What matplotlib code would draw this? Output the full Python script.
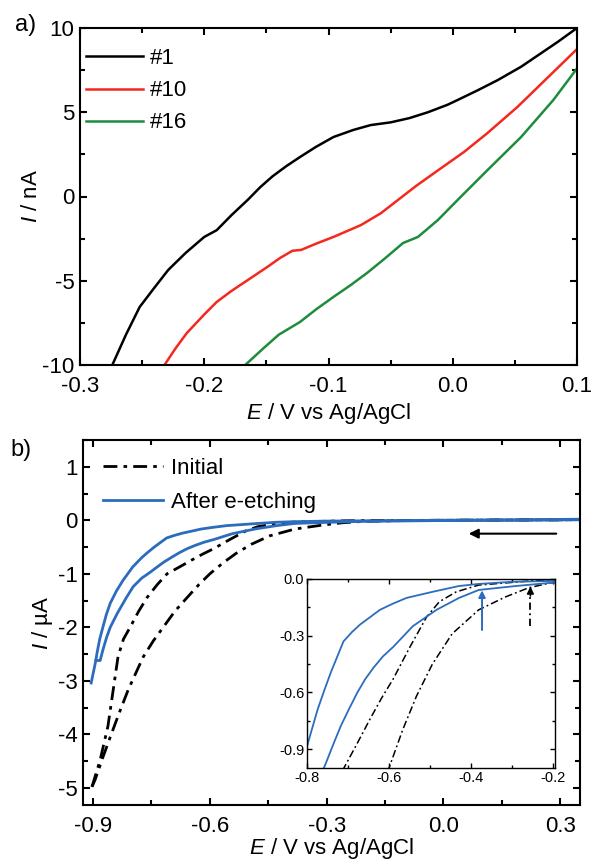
import numpy as np
import matplotlib
matplotlib.use("Agg")
import matplotlib.pyplot as plt
from matplotlib.ticker import MultipleLocator, FormatStrFormatter

plt.rcParams['font.family'] = ['Liberation Sans', 'DejaVu Sans']
plt.rcParams['mathtext.fontset'] = 'custom'
plt.rcParams['mathtext.rm'] = 'Liberation Sans'
plt.rcParams['mathtext.it'] = 'Liberation Sans:italic'
plt.rcParams['axes.unicode_minus'] = False

# ---- panel a: I (nA) vs E (V) ----
e1 = [-0.274, -0.263, -0.252, -0.24, -0.229, -0.215, -0.2, -0.19, -0.178, -0.165, -0.155, -0.145, -0.134, -0.123, -0.11, -0.096, -0.08, -0.066, -0.05, -0.035, -0.02, -0.004, 0.004, 0.02, 0.036, 0.055, 0.071, 0.085, 0.1]
i1 = [-10.0, -8.2, -6.56, -5.4, -4.36, -3.35, -2.4, -2.0, -1.1, -0.2, 0.55, 1.2, 1.8, 2.34, 2.95, 3.53, 3.95, 4.24, 4.4, 4.65, 5.0, 5.45, 5.73, 6.3, 6.9, 7.7, 8.5, 9.2, 10.0]
e10 = [-0.232, -0.223, -0.214, -0.2, -0.19, -0.178, -0.165, -0.149, -0.139, -0.129, -0.122, -0.11, -0.096, -0.074, -0.058, -0.044, -0.03, -0.015, 0.009, 0.028, 0.052, 0.077, 0.1]
i10 = [-10.0, -9.0, -8.1, -7.0, -6.26, -5.6, -4.96, -4.17, -3.65, -3.22, -3.17, -2.8, -2.4, -1.7, -1.0, -0.2, 0.6, 1.39, 2.64, 3.77, 5.31, 7.1, 8.75]
e16 = [-0.167, -0.153, -0.14, -0.123, -0.11, -0.096, -0.082, -0.069, -0.055, -0.04, -0.028, -0.012, 0.004, 0.028, 0.055, 0.081, 0.1]
i16 = [-10.0, -9.05, -8.2, -7.45, -6.7, -5.96, -5.25, -4.54, -3.7, -2.76, -2.4, -1.4, -0.2, 1.57, 3.53, 5.73, 7.6]

# ---- panel b: I (uA) vs E (V) ----
# after e-etching, two branches
eb_up = [-0.905, -0.893, -0.89, -0.883, -0.875, -0.866, -0.856, -0.84, -0.823, -0.798, -0.774, -0.758, -0.742, -0.711, -0.69, -0.67, -0.645, -0.622, -0.59, -0.557, -0.494, -0.429, -0.381, -0.3, -0.2, 0.0, 0.2, 0.35]
ib_up = [-3.04, -2.62, -2.48, -2.22, -2.0, -1.76, -1.55, -1.32, -1.12, -0.87, -0.69, -0.59, -0.495, -0.33, -0.28, -0.24, -0.2, -0.163, -0.13, -0.10, -0.068, -0.037, -0.026, -0.015, -0.01, 0.0, 0.01, 0.02]
eb_lo = [-0.893, -0.882, -0.874, -0.865, -0.856, -0.838, -0.815, -0.797, -0.775, -0.755, -0.735, -0.718, -0.698, -0.677, -0.658, -0.638, -0.615, -0.59, -0.542, -0.484, -0.429, -0.381, -0.29, -0.205, 0.0, 0.2, 0.35]
ib_lo = [-2.62, -2.62, -2.4, -2.18, -2.0, -1.74, -1.45, -1.24, -1.08, -0.98, -0.87, -0.78, -0.69, -0.6, -0.53, -0.47, -0.41, -0.36, -0.25, -0.163, -0.10, -0.058, -0.037, -0.02, -0.005, 0.0, 0.01]
# initial, two branches
ei_1 = [-0.903, -0.882, -0.862, -0.848, -0.836, -0.822, -0.805, -0.783, -0.761, -0.735, -0.71, -0.68, -0.646, -0.618, -0.59, -0.549, -0.508, -0.477, -0.436, -0.381, -0.253, -0.2, 0.0, 0.33]
ii_1 = [-4.98, -4.48, -3.85, -3.15, -2.55, -2.22, -2.0, -1.7, -1.44, -1.2, -1.0, -0.88, -0.74, -0.63, -0.53, -0.36, -0.2, -0.12, -0.068, -0.032, -0.01, -0.005, 0.0, 0.01]
ei_2 = [-0.903, -0.895, -0.876, -0.856, -0.833, -0.81, -0.79, -0.771, -0.745, -0.72, -0.69, -0.658, -0.628, -0.6, -0.566, -0.533, -0.494, -0.446, -0.381, -0.316, -0.26, -0.205, -0.1, 0.0, 0.33]
ii_2 = [-4.98, -4.85, -4.45, -4.05, -3.6, -3.17, -2.85, -2.55, -2.25, -2.0, -1.7, -1.44, -1.2, -1.0, -0.795, -0.62, -0.45, -0.29, -0.163, -0.095, -0.047, -0.02, -0.005, 0.0, 0.01]

# sweep-direction arrow and onset arrows (inset)
sweep_arrow = [(0.29, -0.25), (0.065, -0.25)]
onset_blue = [(-0.373, -0.27), (-0.373, -0.06)]
onset_black = [(-0.255, -0.25), (-0.255, -0.04)]

black = 'black'
red = '#f5281e'
green = '#1e8c3c'
blue = '#2b6cbd'
dashdot_main = (0, (5, 2.2, 1.3, 2.2))
dashdot_in = (0, (5, 2, 1.2, 2))

fig = plt.figure(figsize=(5.95, 8.61), dpi=100)

def style_axes(ax, fs, lw=1.5, maj=5, mnr=3.5, xpad=8, ypad=4):
	for s in ax.spines.values():
		s.set_linewidth(lw)
	ax.tick_params(which='both', direction='in', top=True, right=True, labelsize=fs, width=lw)
	ax.tick_params(axis='x', pad=xpad)
	ax.tick_params(axis='y', pad=ypad)
	ax.tick_params(which='major', length=maj)
	ax.tick_params(which='minor', length=mnr)

# ---- a ----
axa = fig.add_axes([80/595, 1-365/861, 497/595, 337/861])
axa.plot(e1, i1, color=black, lw=1.8, label='#1')
axa.plot(e10, i10, color=red, lw=1.8, label='#10')
axa.plot(e16, i16, color=green, lw=1.8, label='#16')
axa.set_xlim(-0.3, 0.1)
axa.set_ylim(-10, 10)
axa.xaxis.set_major_locator(MultipleLocator(0.1))
axa.xaxis.set_minor_locator(MultipleLocator(0.05))
axa.yaxis.set_major_locator(MultipleLocator(5))
axa.yaxis.set_minor_locator(MultipleLocator(2.5))
axa.xaxis.set_major_formatter(FormatStrFormatter('%.1f'))
style_axes(axa, 16)
axa.set_xlabel('$\\it{E}$ / V vs Ag/AgCl', fontsize=16, labelpad=3)
axa.set_ylabel('$\\it{I}$ / nA', fontsize=16, labelpad=0)
axa.legend(loc='upper left', bbox_to_anchor=(0.012, 0.94), frameon=False, fontsize=16,
	handlelength=2.55, handletextpad=0.32, labelspacing=0.5, borderaxespad=0, borderpad=0)
fig.text(15/595, 1-25/861, 'a)', fontsize=17, va='center', ha='left')

# ---- b ----
axb = fig.add_axes([83/595, 1-805/861, 497/595, 365/861])
axb.plot(ei_1, ii_1, color=black, lw=2, ls=dashdot_main, label='Initial')
axb.plot(ei_2, ii_2, color=black, lw=2, ls=dashdot_main)
axb.plot(eb_up, ib_up, color=blue, lw=2, label='After e-etching')
axb.plot(eb_lo, ib_lo, color=blue, lw=2)
axb.annotate('', xy=sweep_arrow[1], xytext=sweep_arrow[0],
	arrowprops=dict(arrowstyle='-|>', color='black', lw=1.5, mutation_scale=14, shrinkA=0, shrinkB=0))
axb.set_xlim(-0.926, 0.351)
axb.set_ylim(-5.32, 1.5)
axb.xaxis.set_major_locator(MultipleLocator(0.3))
axb.xaxis.set_minor_locator(MultipleLocator(0.15))
axb.yaxis.set_major_locator(MultipleLocator(1))
axb.yaxis.set_minor_locator(MultipleLocator(0.5))
axb.xaxis.set_major_formatter(FormatStrFormatter('%.1f'))
style_axes(axb, 16)
axb.set_xlabel('$\\it{E}$ / V vs Ag/AgCl', fontsize=16, labelpad=-1)
axb.set_ylabel('$\\it{I}$ / µA', fontsize=16, labelpad=2)
axb.legend(loc='upper left', bbox_to_anchor=(0.04, 0.95), frameon=False, fontsize=16,
	handlelength=2.7, handletextpad=0.36, labelspacing=0.56, borderaxespad=0, borderpad=0)
fig.text(10/595, 1-450/861, 'b)', fontsize=17, va='center', ha='left')

# ---- inset ----
axi = fig.add_axes([307/595, 1-768/861, 248/595, 189/861])
axi.plot(ei_1, ii_1, color=black, lw=1.1, ls=dashdot_in)
axi.plot(ei_2, ii_2, color=black, lw=1.1, ls=dashdot_in)
axi.plot(eb_up, ib_up, color=blue, lw=1.3)
axi.plot(eb_lo, ib_lo, color=blue, lw=1.3)
axi.annotate('', xy=onset_blue[1], xytext=onset_blue[0],
	arrowprops=dict(arrowstyle='-|>', color=blue, lw=1.4, mutation_scale=10, shrinkA=0, shrinkB=0))
axi.plot([onset_black[0][0], onset_black[1][0]], [onset_black[0][1], onset_black[1][1] - 0.03],
	color=black, lw=1.3, ls=(0, (4, 2, 1, 2)))
axi.annotate('', xy=onset_black[1], xytext=(onset_black[1][0], onset_black[1][1] - 0.05),
	arrowprops=dict(arrowstyle='-|>', color=black, lw=1.2, mutation_scale=10, shrinkA=0, shrinkB=0))
axi.set_xlim(-0.8, -0.195)
axi.set_ylim(-1.0, 0.0)
axi.xaxis.set_major_locator(MultipleLocator(0.2))
axi.xaxis.set_minor_locator(MultipleLocator(0.1))
axi.yaxis.set_major_locator(MultipleLocator(0.3))
axi.yaxis.set_minor_locator(MultipleLocator(0.15))
axi.xaxis.set_major_formatter(FormatStrFormatter('%.1f'))
axi.yaxis.set_major_formatter(FormatStrFormatter('%.1f'))
style_axes(axi, 10.5, lw=1.0, maj=3.5, mnr=2.5, xpad=2, ypad=2)

fig.savefig('out.png', dpi=100)
